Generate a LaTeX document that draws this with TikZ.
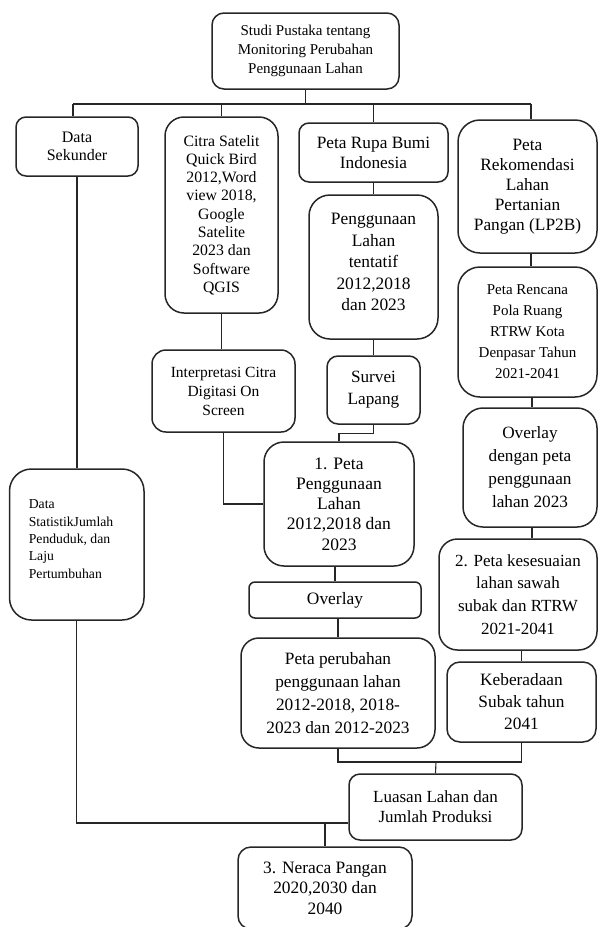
\documentclass[tikz,border=0pt]{standalone}
\usepackage{fontspec}
\setmainfont{Liberation Serif}
\begin{document}
\begin{tikzpicture}[x=1pt,y=-1pt]
\tikzset{
  box/.style={draw=black!85, line width=1.5pt, align=center, inner sep=0pt, text=black},
  conn/.style={draw=black!85, line width=1.1pt},
}
\useasboundingbox (0,0) rectangle (598,927);

% nodes
\node[box, minimum width=187pt, minimum height=76pt, rounded corners=12pt, font=\fontsize{15}{19}\selectfont] (top) at (305.5,51) {Studi Pustaka tentang\\Monitoring Perubahan\\Penggunaan Lahan};
\node[box, minimum width=122pt, minimum height=59pt, rounded corners=10pt, font=\fontsize{16}{18.4}\selectfont] (dsek) at (77,146.5) {Data\\Sekunder};
\node[box, minimum width=113pt, minimum height=196pt, rounded corners=19pt, font=\fontsize{15.8}{18.3}\selectfont] (citra) at (221.5,215) {Citra Satelit\\Quick Bird\\2012,Word\\view 2018,\\Google\\Satelite\\2023 dan\\Software\\QGIS};
\node[box, minimum width=149pt, minimum height=59pt, rounded corners=10pt, font=\fontsize{17.3}{20}\selectfont] (rbi) at (373.5,152.5) {Peta Rupa Bumi\\Indonesia};
\node[box, minimum width=139pt, minimum height=133pt, rounded corners=22pt, font=\fontsize{17.3}{20}\selectfont] (lp2b) at (527.5,186.5) {Peta\\Rekomendasi\\Lahan\\Pertanian\\Pangan (LP2B)};
\node[box, minimum width=129pt, minimum height=144pt, rounded corners=21pt, font=\fontsize{17.4}{21.5}\selectfont, text depth=10pt] (tent) at (373.5,267) {Penggunaan\\Lahan\\tentatif\\2012,2018\\dan 2023};
\node[box, minimum width=93pt, minimum height=68pt, rounded corners=11pt, font=\fontsize{17.2}{22}\selectfont] (surv) at (373.5,390) {Survei\\Lapang};
\node[box, minimum width=143pt, minimum height=82pt, rounded corners=14pt, font=\fontsize{15.5}{19}\selectfont] (interp) at (223.5,391) {Interpretasi Citra\\Digitasi On\\Screen};
\node[box, minimum width=139pt, minimum height=130pt, rounded corners=22pt, font=\fontsize{15}{21}\selectfont] (rtrw) at (527.5,332) {Peta Rencana\\Pola Ruang\\RTRW Kota\\Denpasar Tahun\\2021-2041};
\node[box, minimum width=134pt, minimum height=119pt, rounded corners=20pt, font=\fontsize{17.2}{23}\selectfont] (ovd) at (530,467.5) {Overlay\\dengan peta\\penggunaan\\lahan 2023};
\node[box, minimum width=150pt, minimum height=124pt, rounded corners=20pt, font=\fontsize{17.5}{20.3}\selectfont] (peta1) at (339,504) {1. Peta\\Penggunaan\\Lahan\\2012,2018 dan\\2023};
\node[box, minimum width=134.5pt, minimum height=151pt, rounded corners=22pt] (stat) at (76.75,544.5) {};
\node[anchor=north west, inner sep=0pt, align=left, text=black, font=\fontsize{13.7}{17.4}\selectfont] (statt) at (28.6,499.5) {Data\\StatistikJumlah\\Penduduk, dan\\Laju\\Pertumbuhan};
\node[box, minimum width=158pt, minimum height=111pt, rounded corners=18.5pt, font=\fontsize{17}{22.7}\selectfont] (kes) at (518,594.5) {2. Peta kesesuaian\\lahan sawah\\subak dan RTRW\\2021-2041};
\node[box, minimum width=172pt, minimum height=36pt, rounded corners=6pt, font=\fontsize{17.4}{20}\selectfont] (ovl) at (335,600) {Overlay};
\node[box, minimum width=194pt, minimum height=110pt, rounded corners=18pt, font=\fontsize{17.3}{23}\selectfont] (perub) at (338,693) {Peta perubahan\\penggunaan lahan\\2012-2018, 2018-\\2023 dan 2012-2023};
\node[box, minimum width=149pt, minimum height=80pt, rounded corners=13pt, font=\fontsize{17.3}{22}\selectfont] (keb) at (521.5,702) {Keberadaan\\Subak tahun\\2041};
\node[box, minimum width=173pt, minimum height=66pt, rounded corners=11pt, font=\fontsize{17}{20}\selectfont] (luas) at (435.5,807) {Luasan Lahan dan\\Jumlah Produksi};
\node[box, minimum width=174pt, minimum height=82pt, rounded corners=13pt, font=\fontsize{17.4}{20.5}\selectfont] (ner) at (325,888) {3. Neraca Pangan\\2020,2030 dan\\2040};

% junction coordinates
\coordinate (busL) at (73,104);
\coordinate (busR) at (531,104);
\coordinate (rx) at (532,0);
\coordinate (jL) at (76.75,823);
\coordinate (jB) at (436,762);

% connectors
\draw[conn] (busL) -- (busR);
\draw[conn] (top.south) -- (top.south |- busL);
\draw[conn] (busL) -- (busL |- dsek.north);
\draw[conn] (citra.north |- busL) -- (citra.north);
\draw[conn] (rbi.north |- busL) -- (rbi.north);
\draw[conn] (busR) -- (busR |- lp2b.north);

\draw[conn] (dsek.south) -- (dsek.south |- stat.north);
\draw[conn] (stat.south) -- (jL) -- (jL -| luas.west);
\draw[conn] (jL -| ner.north) -- (ner.north);

\draw[conn] (citra.south) -- (citra.south |- interp.north);
\draw[conn] (interp.south) |- (peta1.west);

\draw[conn] (rbi.south) -- (tent.north);
\draw[conn] (tent.south) -- (surv.north);
\draw[conn] (surv.south) -- ++(0,9) -| (peta1.north);

\draw[conn] (lp2b.south -| busR) -- (rtrw.north -| busR);
\draw[conn] (rtrw.south -| rx) -- (ovd.north -| rx);
\draw[conn] (ovd.south -| rx) -- (kes.north -| rx);
\draw[conn] (keb.north |- kes.south) -- (keb.north);

\draw[conn] (ovl.north |- peta1.south) -- (ovl.north);
\draw[conn] (perub.north |- ovl.south) -- (perub.north);
\draw[conn] (perub.south) |- (jB) -| (keb.south);
\draw[conn] (jB) -- (luas.north);
\end{tikzpicture}
\end{document}
